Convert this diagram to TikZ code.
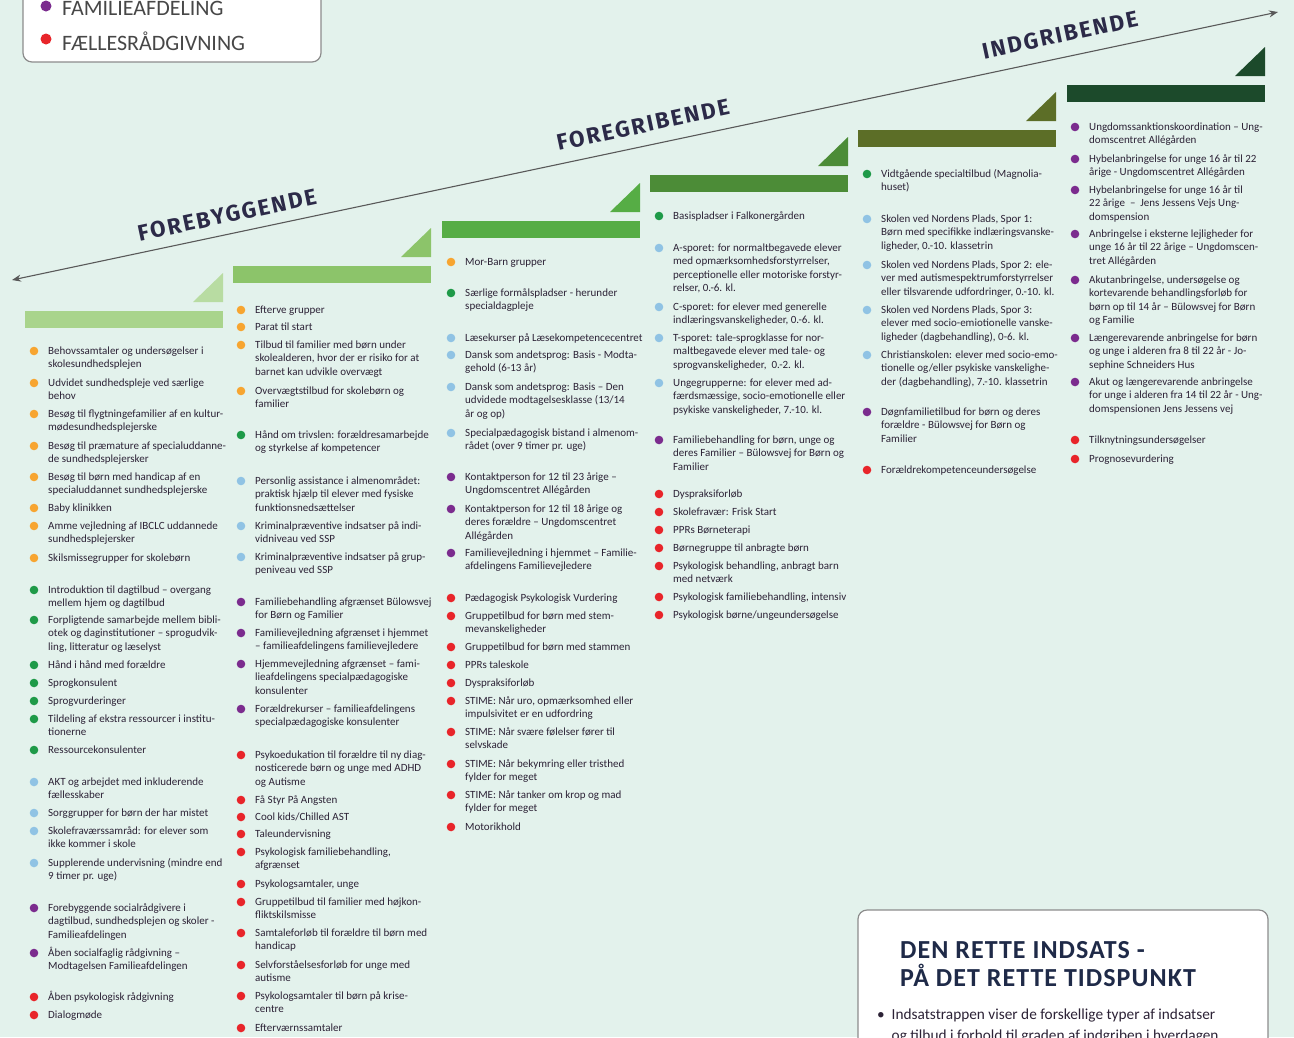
\documentclass[tikz,border=0pt]{standalone}
\usepackage{fontspec}
\setmainfont{Carlito}
\newfontfamily\phasefont[LetterSpace=9]{Fira Sans}
\newfontfamily\titlefont[LetterSpace=4]{Carlito}
\usetikzlibrary{arrows.meta}
\definecolor{bg}{HTML}{E3F2EC}
\definecolor{txt}{HTML}{2C2236}
\definecolor{cO}{HTML}{F7A530}
\definecolor{cG}{HTML}{1E9A48}
\definecolor{cB}{HTML}{90C3E4}
\definecolor{cP}{HTML}{7B2C8E}
\definecolor{cR}{HTML}{E8252A}
\definecolor{s1}{HTML}{A9D48C}
\definecolor{s2}{HTML}{8CC46A}
\definecolor{s3}{HTML}{56AD45}
\definecolor{s4}{HTML}{4C8C37}
\definecolor{s5}{HTML}{5C6E27}
\definecolor{s6}{HTML}{1C4A2B}
\definecolor{t1}{HTML}{B8DCA2}
\definecolor{head}{HTML}{2C2A48}
\definecolor{titl}{HTML}{1F2A48}
\newcounter{itm}
\newcommand\itm[4]{%
  \stepcounter{itm}%
  \fill[#1] (#2,#3) circle (4.3);
  \node[itemtext] (i\theitm) at (#2+14,#3-6.6) {\strut #4};}
\newcommand\stair[4]{%
  \fill[#3] (#1,#2) rectangle ++(198,17);
  \fill[#4] (#1+168,#2-9) -- (#1+198,#2-9) -- (#1+198,#2-38) -- cycle;}
\begin{document}
\begin{tikzpicture}[x=1pt,y=-1pt,
  itemtext/.style={font=\fontsize{11}{13.6}\selectfont, text=txt, inner sep=0pt, align=left, anchor=north west},
  phase/.style={font=\phasefont\fontsize{22.5}{22.5}\selectfont\bfseries, text=head, inner sep=0pt},
  arrowline/.style={draw=black!65, line width=1.1pt},
  legtext/.style={font=\fontsize{22}{22}\selectfont, text=black!72, inner sep=0pt, anchor=west},
  panel/.style={draw=black!45, fill=white, line width=1.2pt, rounded corners=9pt}]
\useasboundingbox (0,0) rectangle (1294,1037);
\clip (0,0) rectangle (1294,1037);
\fill[bg] (0,0) rectangle (1294,1037);

% legend (top left)
\draw[panel] (23,-40) rectangle (321,62);
\fill[cP] (46,6) circle (5.5);
\node[legtext] (lgP) at (62,8) {FAMILIEAFDELING};
\fill[cR] (46,39) circle (5.5);
\node[legtext] (lgR) at (62,41) {FÆLLESRÅDGIVNING};

% main arrow
\coordinate (aL) at (12,280);
\coordinate (aR) at (1278,12);
\draw[arrowline, {Stealth[length=9pt,width=7pt]}-{Stealth[length=9pt,width=7pt]}] (aL) -- (aR);
\node[phase, rotate=12] (ph1) at (227,215) {FOREBYGGENDE};
\node[phase, rotate=12] (ph2) at (643,125) {FOREGRIBENDE};
\node[phase, rotate=12] (ph3) at (1060,35) {INDGRIBENDE};

% stairs
\stair{25}{311}{s1}{t1}
\stair{233}{266}{s2}{s2}
\stair{442}{221}{s3}{s3}
\stair{650}{175}{s4}{s4}
\stair{858}{130}{s5}{s5}
\stair{1067}{85}{s6}{s6}

% column 1
\itm{cO}{34}{351}{Behovssamtaler og undersøgelser i\\skolesundhedsplejen}
\itm{cO}{34}{383}{Udvidet sundhedspleje ved særlige\\behov}
\itm{cO}{34}{414}{Besøg til flygtningefamilier af en kultur-\\mødesundhedsplejerske}
\itm{cO}{34}{446}{Besøg til præmature af specialuddanne-\\de sundhedsplejersker}
\itm{cO}{34}{477}{Besøg til børn med handicap af en\\specialuddannet sundhedsplejerske}
\itm{cO}{34}{508}{Baby klinikken}
\itm{cO}{34}{526}{Amme vejledning af IBCLC uddannede\\sundhedsplejersker}
\itm{cO}{34}{558}{Skilsmissegrupper for skolebørn}
\itm{cG}{34}{590}{Introduktion til dagtilbud – overgang\\mellem hjem og dagtilbud}
\itm{cG}{34}{620}{Forpligtende samarbejde mellem bibli-\\otek og daginstitutioner – sprogudvik-\\ling, litteratur og læselyst}
\itm{cG}{34}{665}{Hånd i hånd med forældre}
\itm{cG}{34}{683}{Sprogkonsulent}
\itm{cG}{34}{701}{Sprogvurderinger}
\itm{cG}{34}{719}{Tildeling af ekstra ressourcer i institu-\\tionerne}
\itm{cG}{34}{750}{Ressourcekonsulenter}
\itm{cB}{34}{782}{AKT og arbejdet med inkluderende\\fællesskaber}
\itm{cB}{34}{813}{Sorggrupper for børn der har mistet}
\itm{cB}{34}{831}{Skolefraværssamråd: for elever som\\ikke kommer i skole}
\itm{cB}{34}{863}{Supplerende undervisning (mindre end\\9 timer pr. uge)}
\itm{cP}{34}{908}{Forebyggende socialrådgivere i\\dagtilbud, sundhedsplejen og skoler -\\Familieafdelingen}
\itm{cP}{34}{953}{Åben socialfaglig rådgivning –\\Modtagelsen Familieafdelingen}
\itm{cR}{34}{997}{Åben psykologisk rådgivning}
\itm{cR}{34}{1015}{Dialogmøde}

% column 2
\itm{cO}{241}{310}{Efterve grupper}
\itm{cO}{241}{327}{Parat til start}
\itm{cO}{241}{345}{Tilbud til familier med børn under\\skolealderen, hvor der er risiko for at\\barnet kan udvikle overvægt}
\itm{cO}{241}{391}{Overvægtstilbud for skolebørn og\\familier}
\itm{cG}{241}{435}{Hånd om trivslen: forældresamarbejde\\og styrkelse af kompetencer}
\itm{cB}{241}{481}{Personlig assistance i almenområdet:\\praktisk hjælp til elever med fysiske\\funktionsnedsættelser}
\itm{cB}{241}{526}{Kriminalpræventive indsatser på indi-\\vidniveau ved SSP}
\itm{cB}{241}{557}{Kriminalpræventive indsatser på grup-\\peniveau ved SSP}
\itm{cP}{241}{602}{Familiebehandling afgrænset Bülowsvej\\for Børn og Familier}
\itm{cP}{241}{633}{Familievejledning afgrænset i hjemmet\\– familieafdelingens familievejledere}
\itm{cP}{241}{664}{Hjemmevejledning afgrænset – fami-\\lieafdelingens specialpædagogiske\\konsulenter}
\itm{cP}{241}{709}{Forældrekurser – familieafdelingens\\specialpædagogiske konsulenter}
\itm{cR}{241}{755}{Psykoedukation til forældre til ny diag-\\nosticerede børn og unge med ADHD\\og Autisme}
\itm{cR}{241}{800}{Få Styr På Angsten}
\itm{cR}{241}{817}{Cool kids/Chilled AST}
\itm{cR}{241}{834}{Taleundervisning}
\itm{cR}{241}{852}{Psykologisk familiebehandling,\\afgrænset}
\itm{cR}{241}{884}{Psykologsamtaler, unge}
\itm{cR}{241}{902}{Gruppetilbud til familier med højkon-\\fliktskilsmisse}
\itm{cR}{241}{933}{Samtaleforløb til forældre til børn med\\handicap}
\itm{cR}{241}{965}{Selvforståelsesforløb for unge med\\autisme}
\itm{cR}{241}{996}{Psykologsamtaler til børn på krise-\\centre}
\itm{cR}{241}{1028}{Efterværnssamtaler}

% column 3
\itm{cO}{451}{262}{Mor-Barn grupper}
\itm{cG}{451}{293}{Særlige formålspladser - herunder\\specialdagpleje}
\itm{cB}{451}{338}{Læsekurser på Læsekompetencecentret}
\itm{cB}{451}{355}{Dansk som andetsprog: Basis - Modta-\\gehold (6-13 år)}
\itm{cB}{451}{387}{Dansk som andetsprog: Basis – Den\\udvidede modtagelsesklasse (13/14\\år og op)}
\itm{cB}{451}{433}{Specialpædagogisk bistand i almenom-\\rådet (over 9 timer pr. uge)}
\itm{cP}{451}{477}{Kontaktperson for 12 til 23 årige –\\Ungdomscentret Allégården}
\itm{cP}{451}{509}{Kontaktperson for 12 til 18 årige og\\deres forældre – Ungdomscentret\\Allégården}
\itm{cP}{451}{553}{Familievejledning i hjemmet – Familie-\\afdelingens Familievejledere}
\itm{cR}{451}{598}{Pædagogisk Psykologisk Vurdering}
\itm{cR}{451}{616}{Gruppetilbud for børn med stem-\\mevanskeligheder}
\itm{cR}{451}{647}{Gruppetilbud for børn med stammen}
\itm{cR}{451}{665}{PPRs taleskole}
\itm{cR}{451}{683}{Dyspraksiforløb}
\itm{cR}{451}{701}{STIME: Når uro, opmærksomhed eller\\impulsivitet er en udfordring}
\itm{cR}{451}{732}{STIME: Når svære følelser fører til\\selvskade}
\itm{cR}{451}{764}{STIME: Når bekymring eller tristhed\\fylder for meget}
\itm{cR}{451}{795}{STIME: Når tanker om krop og mad\\fylder for meget}
\itm{cR}{451}{827}{Motorikhold}

% column 4
\itm{cG}{659}{216}{Basispladser i Falkonergården}
\itm{cB}{659}{248}{A-sporet: for normaltbegavede elever\\med opmærksomhedsforstyrrelser,\\perceptionelle eller motoriske forstyr-\\relser, 0.-6. kl.}
\itm{cB}{659}{307}{C-sporet: for elever med generelle\\indlæringsvanskeligheder, 0.-6. kl.}
\itm{cB}{659}{338}{T-sporet: tale-sprogklasse for nor-\\maltbegavede elever med tale- og\\sprogvanskeligheder,\ \ 0.-2. kl.}
\itm{cB}{659}{383}{Ungegrupperne: for elever med ad-\\færdsmæssige, socio-emotionelle eller\\psykiske vanskeligheder, 7.-10. kl.}
\itm{cP}{659}{440}{Familiebehandling for børn, unge og\\deres Familier – Bülowsvej for Børn og\\Familier}
\itm{cR}{659}{494}{Dyspraksiforløb}
\itm{cR}{659}{512}{Skolefravær: Frisk Start}
\itm{cR}{659}{530}{PPRs Børneterapi}
\itm{cR}{659}{548}{Børnegruppe til anbragte børn}
\itm{cR}{659}{566}{Psykologisk behandling, anbragt barn\\med netværk}
\itm{cR}{659}{597}{Psykologisk familiebehandling, intensiv}
\itm{cR}{659}{615}{Psykologisk børne/ungeundersøgelse}

% column 5
\itm{cG}{867}{174}{Vidtgående specialtilbud (Magnolia-\\huset)}
\itm{cB}{867}{219}{Skolen ved Nordens Plads, Spor 1:\\Børn med specifikke indlæringsvanske-\\ligheder, 0.-10. klassetrin}
\itm{cB}{867}{265}{Skolen ved Nordens Plads, Spor 2: ele-\\ver med autismespektrumforstyrrelser\\eller tilsvarende udfordringer, 0.-10. kl.}
\itm{cB}{867}{310}{Skolen ved Nordens Plads, Spor 3:\\elever med socio-emiotionelle vanske-\\ligheder (dagbehandling), 0-6. kl.}
\itm{cB}{867}{355}{Christianskolen: elever med socio-emo-\\tionelle og/eller psykiske vanskelighe-\\der (dagbehandling), 7.-10. klassetrin}
\itm{cP}{867}{412}{Døgnfamilietilbud for børn og deres\\forældre - Bülowsvej for Børn og\\Familier}
\itm{cR}{867}{470}{Forældrekompetenceundersøgelse}

% column 6
\itm{cP}{1075}{127}{Ungdomssanktionskoordination – Ung-\\domscentret Allégården}
\itm{cP}{1075}{159}{Hybelanbringelse for unge 16 år til 22\\årige - Ungdomscentret Allégården}
\itm{cP}{1075}{190}{Hybelanbringelse for unge 16 år til\\22 årige \ – \ Jens Jessens Vejs Ung-\\domspension}
\itm{cP}{1075}{234}{Anbringelse i eksterne lejligheder for\\unge 16 år til 22 årige – Ungdomscen-\\tret Allégården}
\itm{cP}{1075}{280}{Akutanbringelse, undersøgelse og\\kortevarende behandlingsforløb for\\børn op til 14 år – Bülowsvej for Børn\\og Familie}
\itm{cP}{1075}{338}{Længerevarende anbringelse for børn\\og unge i alderen fra 8 til 22 år - Jo-\\sephine Schneiders Hus}
\itm{cP}{1075}{382}{Akut og længerevarende anbringelse\\for unge i alderen fra 14 til 22 år - Ung-\\domspensionen Jens Jessens vej}
\itm{cR}{1075}{440}{Tilknytningsundersøgelser}
\itm{cR}{1075}{459}{Prognosevurdering}

% info panel (bottom right)
\draw[panel] (858,910) rectangle (1268,1100);
\node[font=\titlefont\fontsize{26}{28}\selectfont\bfseries, text=titl, align=left, anchor=north west, inner sep=0pt] (ttl) at (900,941) {DEN RETTE INDSATS -\\PÅ DET RETTE TIDSPUNKT};
\node[font=\fontsize{15.3}{21}\selectfont, text=txt, align=left, anchor=north west, inner sep=0pt] (info) at (877,1009) {•\ \ Indsatstrappen viser de forskellige typer af indsatser\\\phantom{•}\ \ og tilbud i forhold til graden af indgriben i hverdagen};
\end{tikzpicture}
\end{document}
